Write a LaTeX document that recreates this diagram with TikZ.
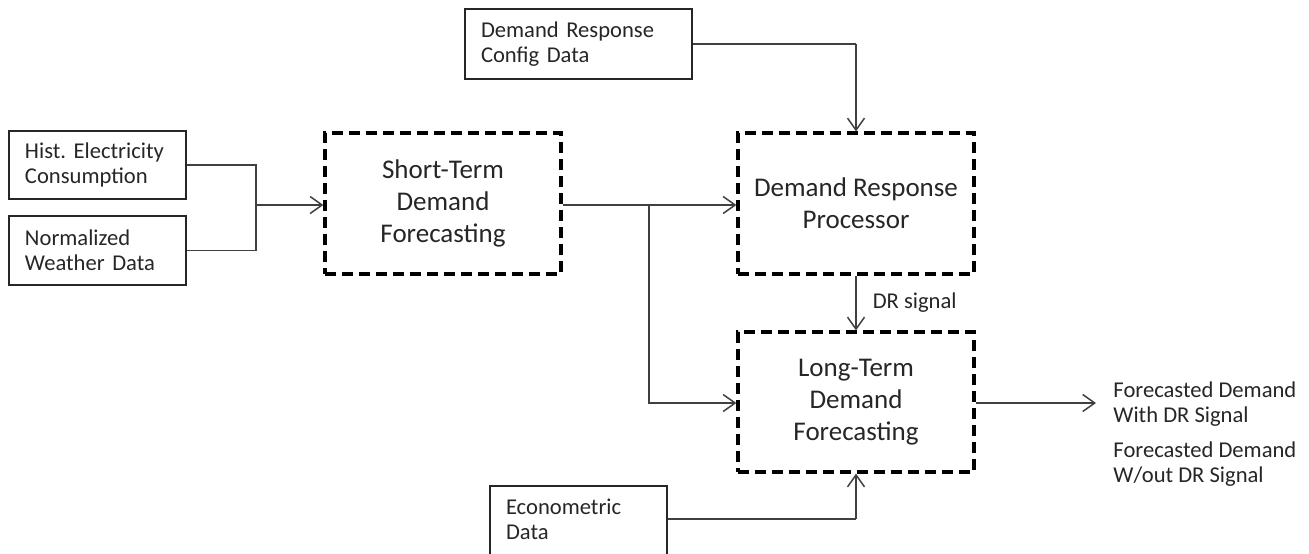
\documentclass[tikz,border=0pt]{standalone}
\usepackage{fontspec}
\setmainfont{Carlito}
\usetikzlibrary{arrows.meta}
\definecolor{txt}{HTML}{262626}
\definecolor{conn}{HTML}{404040}
\tikzset{
  inbox/.style={draw=black!85, line width=0.8pt, align=left, inner xsep=8pt, inner ysep=0pt,
    font=\fontsize{11.3}{12.5}\selectfont, text=txt, anchor=center},
  procbox/.style={draw=black, line width=1.6pt, dash pattern=on 5.5pt off 3pt, align=center,
    minimum width=118pt, minimum height=70.5pt, inner sep=0pt,
    font=\fontsize{13.5}{16}\selectfont, text=txt},
  conn/.style={draw=conn, line width=0.75pt, -{Straight Barb[length=6pt,width=8.5pt,line width=0.75pt]}},
  plain/.style={draw=conn, line width=0.75pt},
  lbl/.style={font=\fontsize{11.3}{12.5}\selectfont, text=txt, align=left, inner sep=0pt}
}
\begin{document}
\frenchspacing
\begin{tikzpicture}[x=0.5pt,y=-0.5pt]
\useasboundingbox (0,0) rectangle (1309,553);
\clip (0,0) rectangle (1309,553);
% input boxes
\node[inbox, text width=72.5pt, minimum height=34pt] (hist) at (97.5,165) {Hist. Electricity\\Consumption};
\node[inbox, text width=72.5pt, minimum height=34.5pt] (norm) at (97.5,250.5) {Normalized\\Weather Data};
\node[inbox, text width=97.5pt, minimum height=35pt] (drc) at (578.5,44) {Demand Response\\Config Data};
\node[inbox, text width=72.5pt, anchor=north, inner ysep=6.8pt, text depth=30pt] (econ) at (578.5,485) {Econometric\\Data};
% process boxes
\node[procbox] (stdf) at (443,203.5) {Short-Term\\Demand\\Forecasting};
\node[procbox] (drp) at (856,203.5) {Demand Response\\Processor};
\node[procbox, minimum height=70pt] (ltdf) at (856,402) {Long-Term\\Demand\\Forecasting};
% outputs
\coordinate (out) at (1096,403);
\node[lbl, anchor=west] (o1) at (1113,404) {Forecasted Demand\\With DR Signal};
\node[lbl, anchor=west] (o2) at (1113,464.5) {Forecasted Demand\\W/out DR Signal};
% junctions
\coordinate (j1) at (256,205);
\coordinate (j2) at (649,205);
\coordinate (j3) at (856,44);
\coordinate (j4) at (856,519);
% connectors
\draw[plain] (hist.east) -| (j1) |- (norm.east);
\draw[conn] (j1) -- (j1 -| stdf.west);
\draw[conn] (stdf.east |- j2) -- (j2 -| drp.west);
\draw[conn] (j2) |- (ltdf.west |- out);
\draw[plain] (drc.east |- j3) -- (j3);
\draw[conn] (j3) -- (drp.north);
\draw[conn] (drp.south) -- node[lbl, right=8pt] (drs) {DR signal} (ltdf.north);
\draw[plain] (econ.east |- j4) -- (j4);
\draw[conn] (j4) -- (ltdf.south);
\draw[conn] (ltdf.east |- out) -- (out);
\end{tikzpicture}
\end{document}
